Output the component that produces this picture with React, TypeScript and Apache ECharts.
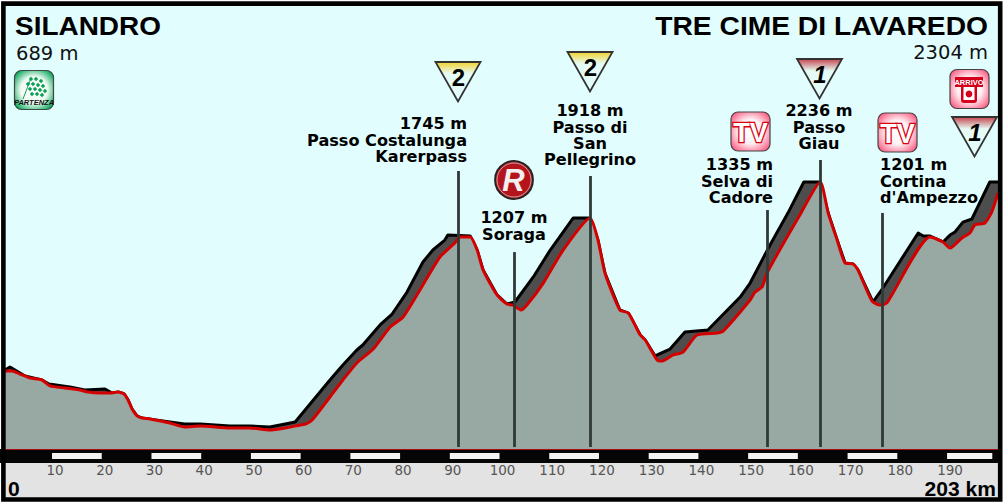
import React, { useEffect, useRef } from "react";
import * as echarts from "echarts";

// Road profile (km, m)
const roadKm = [0.54,1.95,3.56,5.57,7.98,9.59,12.6,15.6,17.2,19.65,21.66,23.3,24.5,25.3,26.1,27.1,28.1,29.7,33.7,36.7,39.8,45.8,49.8,53.8,56.9,59.9,61.1,62.3,63.9,65.9,68.5,71.3,74.6,78.0,80.6,84.0,88.0,91.0,92.0,94.1,95.5,96.7,99.5,101.5,102.7,104.3,105.5,108.8,112.8,118.2,119.8,121.2,124.2,125.9,128.3,129.3,131.7,132.7,134.9,136.9,139.7,143.8,145.0,150.4,151.4,152.8,153.8,160.4,164.5,166.1,167.9,169.5,171.1,172.1,174.9,176.5,177.9,186.6,189.2,190.6,193.0,194.6,195.6,197.6,199.0,200.25];
const roadM = [682,682,657,624,608,559,542,526,509,501,501,509,493,443,369,312,295,287,254,221,229,213,213,196,213,238,246,279,361,468,608,748,863,1044,1126,1349,1620,1736,1785,1785,1678,1513,1308,1233,1225,1184,1225,1406,1678,1941,1760,1489,1184,1159,978,937,773,764,814,838,978,995,1011,1266,1332,1373,1489,1966,2238,1982,1760,1571,1563,1513,1258,1225,1242,1785,1744,1694,1777,1818,1884,1900,1991,2147];

// Upper ridge of the relief band (km, m)
const ridgeKm = [0.54,1.55,2.55,4.57,7.98,9.39,13.6,16.6,20.65,22.07,23.3,24.5,25.3,26.1,27.1,28.1,33.7,36.7,39.8,45.8,49.8,53.8,56.9,58.9,63.9,65.9,68.5,71.3,72.5,75.97,78.4,81.4,84.6,86.6,89.0,89.6,94.1,95.5,96.7,99.5,101.5,103.1,106.8,110.2,114.8,118.2,119.8,121.2,124.2,125.9,128.3,129.3,131.3,131.7,134.3,137.3,141.9,148.4,150.4,154.4,158.0,161.2,164.5,166.1,167.9,169.5,171.1,172.1,175.1,177.1,184.2,185.2,186.6,189.2,190.6,191.6,193.2,195.0,198.6,200.25];
const ridgeM = [690,715,690,641,608,575,550,526,534,501,509,493,443,369,312,295,262,246,246,229,229,221,246,262,509,608,731,855,896,1061,1151,1332,1579,1678,1760,1801,1793,1678,1513,1308,1233,1250,1456,1678,1941,1941,1760,1489,1184,1159,978,937,805,814,863,1003,1019,1291,1406,1719,1982,2238,2238,1982,1760,1571,1563,1513,1250,1365,1818,1793,1793,1744,1801,1826,1908,1933,2238,2238];

// Vertical marker poles
const poleKm = [91.6, 103, 118.2, 153.8, 164.5, 176.9];
const poleTopM = [2328, 1661, 2287, 2007, 2419, 1983];
const poleBottomM = 56;

// Distance scale
const scaleStripes = [[10,20],[30,40],[50,60],[70,80],[90,100],[110,120],[130,140],[150,160],[170,180],[190,199.1]];

const START_NAME = "SILANDRO";
const START_ELEV = "689 m";
const END_NAME = "TRE CIME DI LAVAREDO";
const END_ELEV = "2304 m";
const START_KM = "0";
const END_KM = "203 km";

const passLabels = [
  { lines: ["1745 m", "Passo Costalunga", "Karerpass"], x: 467, y: 124, align: "right" },
  { lines: ["1207 m", "Soraga"], x: 514, y: 218, align: "center" },
  { lines: ["1918 m", "Passo di", "San", "Pellegrino"], x: 590, y: 111, align: "center" },
  { lines: ["1335 m", "Selva di", "Cadore"], x: 773, y: 165, align: "right" },
  { lines: ["2236 m", "Passo", "Giau"], x: 819, y: 111, align: "center" },
  { lines: ["1201 m", "Cortina", "d'Ampezzo"], x: 880, y: 165, align: "left" },
];

const gpmMarks = [
  { n: "2", x: 458, y: 62, colour: "#f2d22e", italic: false },
  { n: "2", x: 590, y: 52, colour: "#f2d22e", italic: false },
  { n: "1", x: 819.5, y: 59, colour: "#c4444c", italic: true },
  { n: "1", x: 974.5, y: 117, colour: "#c4444c", italic: true },
];
const tvMarks = [{ x: 731, y: 112 }, { x: 878, y: 113 }];

const DEJAVU = '"DejaVu Sans"';
const LIB = '"Liberation Sans"';

function badge(x: number, y: number, inner: string, outer: string) {
  return {
    type: "rect", z: 10, shape: { x, y, width: 39, height: 39, r: 7 },
    style: {
      fill: new echarts.graphic.RadialGradient(0.5, 0.5, 0.62, [
        { offset: 0, color: "#ffffff" }, { offset: 0.5, color: inner }, { offset: 1, color: outer },
      ]),
      stroke: "#444", lineWidth: 1.2,
    },
  };
}

function buildGraphics() {
  const els: any[] = [];
  // panels
  els.push({ type: "rect", z: 0, shape: { x: 3, y: 3, width: 997, height: 496 }, style: { fill: "#e1fdfd" } });
  els.push({ type: "rect", z: 0, shape: { x: 0, y: 449, width: 1002, height: 14 }, style: { fill: "#050505" } });
  els.push({ type: "rect", z: 0, shape: { x: 3, y: 463, width: 997, height: 35 }, style: { fill: "#e3e3e3" } });
  els.push({ type: "rect", z: 20, shape: { x: 3.4, y: 3.6, width: 996.8, height: 495.9 }, style: { fill: "none", stroke: "#000", lineWidth: 4.6 } });

  // titles
  els.push({ type: "text", z: 10, x: 15, y: 25.5, scaleX: 1.055, style: { text: START_NAME, align: "left", verticalAlign: "middle", fill: "#000", fontFamily: LIB, fontWeight: "bold", fontSize: 26.5 } });
  els.push({ type: "text", z: 10, x: 988, y: 26, scaleX: 1.065, style: { text: END_NAME, align: "right", verticalAlign: "middle", fill: "#000", fontFamily: LIB, fontWeight: "bold", fontSize: 26.5 } });
  els.push({ type: "text", z: 10, x: 16, y: 53, style: { text: START_ELEV, align: "left", verticalAlign: "middle", fill: "#111", fontFamily: DEJAVU, fontSize: 19.5 } });
  els.push({ type: "text", z: 10, x: 988, y: 52, style: { text: END_ELEV, align: "right", verticalAlign: "middle", fill: "#111", fontFamily: DEJAVU, fontSize: 19.5 } });
  els.push({ type: "text", z: 10, x: 8, y: 489.5, scaleX: 1.08, style: { text: START_KM, align: "left", verticalAlign: "middle", fill: "#000", fontFamily: LIB, fontWeight: "bold", fontSize: 19.5 } });
  els.push({ type: "text", z: 10, x: 996, y: 489.5, scaleX: 1.08, style: { text: END_KM, align: "right", verticalAlign: "middle", fill: "#000", fontFamily: LIB, fontWeight: "bold", fontSize: 19.5 } });

  // pass labels
  for (const p of passLabels) {
    els.push({
      type: "text", z: 10, x: p.x, y: p.y - 8.15, scaleX: 1.04,
      style: { text: p.lines.join("\n"), align: p.align, verticalAlign: "top", lineHeight: 16.3, fill: "#000", fontFamily: DEJAVU, fontWeight: "bold", fontSize: 15.5 },
    });
  }

  // GPM triangles
  for (const g of gpmMarks) {
    els.push({
      type: "polygon", z: 10, shape: { points: [[g.x - 22.5, g.y], [g.x + 22.5, g.y], [g.x, g.y + 39.5]] },
      style: {
        fill: new echarts.graphic.LinearGradient(0, 0, 0, 1, [
          { offset: 0, color: g.colour }, { offset: 0.3, color: "#e6fbf4" }, { offset: 1, color: "#e1fdfd" },
        ]),
        stroke: "#333", lineWidth: 1.8, lineJoin: "miter",
      },
    });
    els.push({ type: "text", z: 11, x: g.x + 0.5, y: g.y + 15.5, style: { text: g.n, align: "center", verticalAlign: "middle", fill: "#000", fontFamily: LIB, fontWeight: "bold", fontStyle: g.italic ? "italic" : "normal", fontSize: 24 } });
  }

  // TV badges
  for (const t of tvMarks) {
    els.push(badge(t.x, t.y, "#fff0f3", "#fb5f85"));
    els.push({ type: "text", z: 11, x: t.x + 19.5, y: t.y + 20.5, style: { text: "TV", align: "center", verticalAlign: "middle", fill: "#fff", stroke: "#d8000f", lineWidth: 2.6, fontFamily: LIB, fontWeight: "bold", fontSize: 27 } });
  }

  // Regional sprint style disc
  els.push({ type: "circle", z: 10, shape: { cx: 514, cy: 180, r: 19 }, style: { fill: "#b5141c", stroke: "#222", lineWidth: 1.8 } });
  els.push({ type: "circle", z: 10, shape: { cx: 514, cy: 180, r: 17 }, style: { fill: "none", stroke: "#c9c9c9", lineWidth: 0.8 } });
  els.push({ type: "text", z: 11, x: 513.5, y: 180, style: { text: "R", align: "center", verticalAlign: "middle", fill: "#f4f0f0", fontFamily: LIB, fontWeight: "bold", fontStyle: "italic", fontSize: 31 } });

  // Start badge
  els.push({
    type: "rect", z: 10, shape: { x: 14.5, y: 70.5, width: 39, height: 39, r: 7 },
    style: {
      fill: new echarts.graphic.RadialGradient(0.5, 0.5, 0.62, [
        { offset: 0, color: "#ffffff" }, { offset: 0.55, color: "#eefaf2" }, { offset: 1, color: "#07a75a" },
      ]),
      stroke: "#3b4a42", lineWidth: 1.2,
    },
  });
  els.push({ type: "line", z: 11, shape: { x1: 23, y1: 99, x2: 31, y2: 78 }, style: { stroke: "#1aa05c", lineWidth: 1 } });
  const flagRows = [[31,79],[36,79],[41,81],[28,84],[33,84],[38,85],[43,86],[30,89],[35,89],[40,90],[45,91],[32,94],[37,94],[42,95]];
  for (const [fx, fy] of flagRows) {
    els.push({ type: "polygon", z: 11, shape: { points: [[fx, fy - 2.2], [fx + 2.2, fy], [fx, fy + 2.2], [fx - 2.2, fy]] }, style: { fill: "#0a9f55" } });
  }
  els.push({ type: "text", z: 11, x: 34, y: 102.5, style: { text: "PARTENZA", align: "center", verticalAlign: "middle", fill: "#111", fontFamily: LIB, fontWeight: "bold", fontStyle: "italic", fontSize: 7.5 } });

  // Finish badge
  els.push(badge(950, 69.5, "#fff0f3", "#fb5f85"));
  els.push({ type: "rect", z: 11, shape: { x: 955, y: 77, width: 28, height: 10 }, style: { fill: "#d4001a" } });
  els.push({ type: "text", z: 12, x: 969, y: 82.2, style: { text: "ARRIVO", align: "center", verticalAlign: "middle", fill: "#fff", fontFamily: LIB, fontWeight: "bold", fontSize: 7.5 } });
  els.push({ type: "rect", z: 11, shape: { x: 961, y: 87, width: 16, height: 16, r: [0, 0, 3, 3] }, style: { fill: "#d4001a" } });
  els.push({ type: "rect", z: 11, shape: { x: 963.5, y: 87, width: 11, height: 13 }, style: { fill: "#fff" } });
  els.push({ type: "circle", z: 12, shape: { cx: 969, cy: 94, r: 3.4 }, style: { fill: "#d4001a" } });
  return els;
}

export default function App() {
  const ref = useRef<HTMLDivElement>(null);
  useEffect(() => {
    document.body.style.margin = "0";
    const chart = echarts.init(ref.current!, undefined, { renderer: "svg" });
    const road = roadKm.map((k, i) => [k, roadM[i]]);
    const ridge = ridgeKm.map((k, i) => [k, ridgeM[i]]);
    chart.setOption({
      animation: false,
      backgroundColor: "#ffffff",
      grid: { left: 2.3, width: 995.7, top: 89.4, height: 359.6, containLabel: false },
      xAxis: {
        type: "value", min: 0, max: 200.25, interval: 10, z: 5,
        splitLine: { show: false }, axisTick: { show: false },
        axisLine: { show: true, onZero: false, lineStyle: { color: "#a80f0f", width: 1 } },
        axisLabel: {
          show: true, margin: 14, color: "#555555", fontFamily: DEJAVU, fontSize: 13.5, padding: [0, 0, 0, 6],
          showMinLabel: false, showMaxLabel: false,
          formatter: (v: number) => (v >= 10 && v <= 190 && v % 10 === 0 ? String(v) : ""),
        },
      },
      yAxis: { type: "value", min: 40, max: 3000, show: false },
      graphic: { elements: buildGraphics() },
      series: [
        {
          type: "line", name: "ridge", data: ridge, symbol: "none", z: 2, silent: true,
          lineStyle: { color: "#000", width: 3, join: "round" },
          areaStyle: { color: "#4d4d4d", opacity: 1 },
        },
        {
          type: "line", name: "road", data: road, symbol: "none", z: 3, silent: true, smooth: 0.2,
          lineStyle: { color: "#d40000", width: 3, join: "round" },
          areaStyle: { color: "#98a9a4", opacity: 1 },
        },
        {
          type: "line", name: "poles", data: [], symbol: "none", z: 4, silent: true,
          markLine: {
            silent: true, symbol: "none", animation: false, label: { show: false },
            lineStyle: { color: "#2f3a38", width: 2.8, type: "solid" },
            data: poleKm.map((k, i) => [{ coord: [k, poleTopM[i]] }, { coord: [k, poleBottomM] }]),
          },
        },
        {
          type: "custom", name: "scale", data: scaleStripes, z: 5, silent: true, clip: false,
          encode: { x: [0, 1] },
          renderItem: (_p: any, api: any) => {
            const a = api.coord([api.value(0), 40]);
            const b = api.coord([api.value(1), 40]);
            return { type: "rect", shape: { x: a[0], y: 453, width: b[0] - a[0], height: 6 }, style: { fill: "#f2f2f2" } };
          },
        },
      ],
    });
    return () => chart.dispose();
  }, []);
  return <div ref={ref} style={{ width: 1004, height: 504 }} />;
}
